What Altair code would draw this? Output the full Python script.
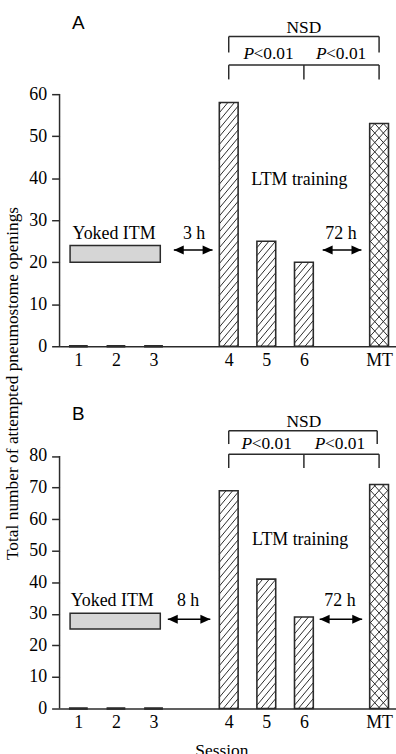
import altair as alt
import pandas as pd

# ---------------- data ----------------
sessions = ["1", "2", "3", "4", "5", "6", "MT"]
positions = [1, 2, 3, 5, 6, 7, 9]
patterns = ["none", "none", "none", "hatch", "hatch", "hatch", "cross"]
values_a = [0, 0, 0, 58, 25, 20, 53]
values_b = [0, 0, 0, 69, 41, 29, 71]

itm_box_a = [20, 24]
itm_box_b = [25.2, 30.2]

# ---------------- geometry / style ----------------
X_DOMAIN = [0.5, 9.45]
WIDTH = 339
PPU_X = WIDTH / (X_DOMAIN[1] - X_DOMAIN[0])
BAR_HALF = 0.25
SERIF = "Liberation Serif"
SANS = "Liberation Sans"
INK = "#2b2b2b"
FS = 18

label_expr = " : ".join(
    f"datum.value == {p} ? '{s}'" for p, s in zip(positions, sessions)
) + " : ''"


def hatch_rows(values, ppu_y):
    rows = []
    w = 2 * BAR_HALF * PPU_X
    for pos, v, pat in zip(positions, values, patterns):
        if v <= 0 or pat == "none":
            continue
        H = v * ppu_y
        xl = pos - BAR_HALF
        if pat == "hatch":
            slope, spacing, dirs = 1.2, 8.0, [1]
        else:
            slope, spacing, dirs = 1.1, 9.5, [1, -1]
        for d in dirs:
            if d == 1:
                c = -slope * w + 2
                while c < H:
                    x0 = max(0.0, -c / slope)
                    x1 = min(w, (H - c) / slope)
                    if x1 > x0:
                        rows.append(dict(x=xl + x0 / PPU_X, x2=xl + x1 / PPU_X,
                                         y=(slope * x0 + c) / ppu_y,
                                         y2=(slope * x1 + c) / ppu_y))
                    c += spacing
            else:
                c = 2
                while c < H + slope * w:
                    x0 = max(0.0, (c - H) / slope)
                    x1 = min(w, c / slope)
                    if x1 > x0:
                        rows.append(dict(x=xl + x0 / PPU_X, x2=xl + x1 / PPU_X,
                                         y=(-slope * x0 + c) / ppu_y,
                                         y2=(-slope * x1 + c) / ppu_y))
                    c += spacing
    return pd.DataFrame(rows)


def panel(values, box, ymax_axis, ydomain, height, ann, show_x_title, show_y_title):
    ppu_y = height / ydomain
    xs = alt.Scale(domain=X_DOMAIN, nice=False, zero=False)
    ys = alt.Scale(domain=[0, ydomain], nice=False)
    tick_vals = list(range(0, ymax_axis + 1, 10))

    x_axis = dict(values=positions, labelExpr=label_expr, ticks=False, tickSize=0,
                  labelPadding=5, labelFont=SERIF, labelFontSize=FS, labelColor="black",
                  domainColor=INK, domainWidth=1.5, grid=False, labelFlush=False,
                  labelOverlap=False)
    if show_x_title:
        x_axis.update(title="Session", titleFont=SERIF, titleFontSize=17.5,
                      titleFontWeight="normal", titleColor="black", titlePadding=10,
                      titleX=163)
    else:
        x_axis.update(title=None)
    y_axis = dict(values=tick_vals, tickCount=len(tick_vals), domain=False, grid=False,
                  tickSize=8, tickColor=INK, tickWidth=1.5, labelPadding=5,
                  labelFont=SERIF, labelFontSize=FS, labelColor="black",
                  labelOverlap=False)
    if show_y_title:
        y_axis.update(title="Total number of attempted pneumostome openings",
                      titleFont=SERIF, titleFontSize=17.5, titleFontWeight="normal",
                      titleColor="black", titleAngle=270, titleX=-42, titleY=-10,
                      titleBaseline="alphabetic", titleAlign="center")
    else:
        y_axis.update(title=None)

    bars = pd.DataFrame({"pos": positions, "v": values, "s": sessions})
    base = alt.Chart(bars).transform_calculate(
        xl=f"datum.pos - {BAR_HALF}", xr=f"datum.pos + {BAR_HALF}", zero="0")

    axis_layer = alt.Chart(pd.DataFrame({"x": [X_DOMAIN[0]], "y": [0], "y2": [ymax_axis]})).mark_rule(
        color=INK, strokeWidth=1.5).encode(
        x=alt.X("x:Q", scale=xs, axis=alt.Axis(**x_axis)),
        y=alt.Y("y:Q", scale=ys, axis=alt.Axis(**y_axis)),
        y2="y2:Q")

    hatch = alt.Chart(hatch_rows(values, ppu_y)).mark_rule(color=INK, strokeWidth=1).encode(
        x=alt.X("x:Q", scale=xs), x2="x2:Q", y=alt.Y("y:Q", scale=ys), y2="y2:Q")

    rects = base.transform_filter("datum.v > 0").mark_rect(
        stroke=INK, strokeWidth=1.6, fillOpacity=0).encode(
        x=alt.X("xl:Q", scale=xs), x2="xr:Q", y=alt.Y("v:Q", scale=ys), y2="zero:Q")
    zero_bars = base.transform_filter("datum.v <= 0").mark_rule(
        stroke=INK, strokeWidth=2.6).encode(
        x=alt.X("xl:Q", scale=xs), x2="xr:Q", y=alt.Y("v:Q", scale=ys))

    box_df = pd.DataFrame({"x": [0.78], "x2": [3.18], "y": [box[0]], "y2": [box[1]]})
    box_layer = alt.Chart(box_df).mark_rect(fill="#d6d6d6", stroke=INK, strokeWidth=1.5).encode(
        x=alt.X("x:Q", scale=xs), x2="x2:Q", y=alt.Y("y:Q", scale=ys), y2="y2:Q")

    # brackets
    br = pd.DataFrame(ann["brackets"], columns=["x", "x2", "y", "y2"])
    brackets = alt.Chart(br).mark_rule(color=INK, strokeWidth=1.5).encode(
        x=alt.X("x:Q", scale=xs), x2="x2:Q", y=alt.Y("y:Q", scale=ys), y2="y2:Q")

    # arrows
    ar = pd.DataFrame(ann["arrows"], columns=["x", "x2", "y"])
    arrow_lines = alt.Chart(ar).mark_rule(color="black", strokeWidth=1.5).encode(
        x=alt.X("x:Q", scale=xs), x2="x2:Q", y=alt.Y("y:Q", scale=ys))
    off = 5 / PPU_X
    heads_l = alt.Chart(ar).transform_calculate(hx=f"datum.x + {off}").mark_point(
        shape="M-1,0L1,-0.9L1,0.9Z", size=100, filled=True, color="black", opacity=1).encode(
        x=alt.X("hx:Q", scale=xs), y=alt.Y("y:Q", scale=ys))
    heads_r = alt.Chart(ar).transform_calculate(hx=f"datum.x2 - {off}").mark_point(
        shape="M1,0L-1,-0.9L-1,0.9Z", size=100, filled=True, color="black", opacity=1).encode(
        x=alt.X("hx:Q", scale=xs), y=alt.Y("y:Q", scale=ys))

    # texts
    tx = pd.DataFrame(ann["texts"], columns=["x", "y", "t"])
    texts = alt.Chart(tx).mark_text(font=SERIF, fontSize=FS, color="black",
                                    baseline="alphabetic", align="center").encode(
        x=alt.X("x:Q", scale=xs), y=alt.Y("y:Q", scale=ys), text="t:N")
    nsd = pd.DataFrame([ann["nsd"]], columns=["x", "y", "t"])
    nsd_text = alt.Chart(nsd).mark_text(font=SERIF, fontSize=17.5, color="black",
                                        baseline="alphabetic", align="center").encode(
        x=alt.X("x:Q", scale=xs), y=alt.Y("y:Q", scale=ys), text="t:N")
    pv = pd.DataFrame(ann["pvals"], columns=["x", "y"])
    p_it = alt.Chart(pv).transform_calculate(t="'P'").mark_text(
        font=SERIF, fontSize=17.5, fontStyle="italic", color="black",
        baseline="alphabetic", align="right", dx=0.5).encode(
        x=alt.X("x:Q", scale=xs), y=alt.Y("y:Q", scale=ys), text="t:N")
    p_rest = alt.Chart(pv).transform_calculate(t="'<0.01'").mark_text(
        font=SERIF, fontSize=17.5, color="black",
        baseline="alphabetic", align="left").encode(
        x=alt.X("x:Q", scale=xs), y=alt.Y("y:Q", scale=ys), text="t:N")
    lab = pd.DataFrame([ann["letter"]], columns=["x", "y", "t"])
    letter = alt.Chart(lab).mark_text(font=SANS, fontSize=19, color="black",
                                      baseline="alphabetic", align="center").encode(
        x=alt.X("x:Q", scale=xs), y=alt.Y("y:Q", scale=ys), text="t:N")

    return alt.layer(axis_layer, hatch, rects, zero_bars, box_layer, brackets, arrow_lines,
                     heads_l, heads_r, texts, nsd_text, p_it, p_rest, letter).properties(
        width=WIDTH, height=height)


ann_a = dict(
    brackets=[[5, 9, 73.7, 73.7], [5, 5, 69.9, 73.7], [9, 9, 69.9, 73.7],
              [5, 9, 66.9, 66.9], [5, 5, 63.5, 66.9], [7, 7, 63.5, 66.9], [9, 9, 63.5, 66.9]],
    arrows=[[3.54, 4.57, 22.9], [7.5, 8.53, 22.9]],
    texts=[[1.95, 25.5, "Yoked ITM"], [4.08, 25.5, "3 h"],
           [7.985, 25.5, "72 h"], [6.88, 38.3, "LTM training"]],
    nsd=[7, 74.5, "NSD"],
    pvals=[[5.66, 68.3], [7.59, 68.3]],
    letter=[1.0, 75.6, "A"],
)
ann_b = dict(
    brackets=[[5, 8.95, 88.0, 88.0], [5, 5, 83.8, 88.0], [8.95, 8.95, 83.8, 88.0],
              [5, 9, 80.6, 80.6], [5, 5, 76.2, 80.6], [7, 7, 76.2, 80.6], [9, 9, 76.2, 80.6]],
    arrows=[[3.38, 4.51, 28.3], [7.42, 8.55, 28.3]],
    texts=[[1.9, 32.4, "Yoked ITM"], [3.92, 32.4, "8 h"],
           [7.96, 32.4, "72 h"], [6.9, 51.7, "LTM training"]],
    nsd=[7, 89.3, "NSD"],
    pvals=[[5.61, 82.2], [7.56, 82.2]],
    letter=[1.0, 91.3, "B"],
)

pa = panel(values_a, itm_box_a, 60, 81, 343, ann_a, False, False)
pb = panel(values_b, itm_box_b, 80, 100, 318, ann_b, True, True)

chart = alt.vconcat(pa, pb, spacing=47, bounds="flush").properties(
    padding={"left": 3, "top": 3, "right": 0, "bottom": 0},
    background="white",
).configure_view(strokeWidth=0)

chart.save("out.html", embed_options={"renderer": "svg", "actions": False})
